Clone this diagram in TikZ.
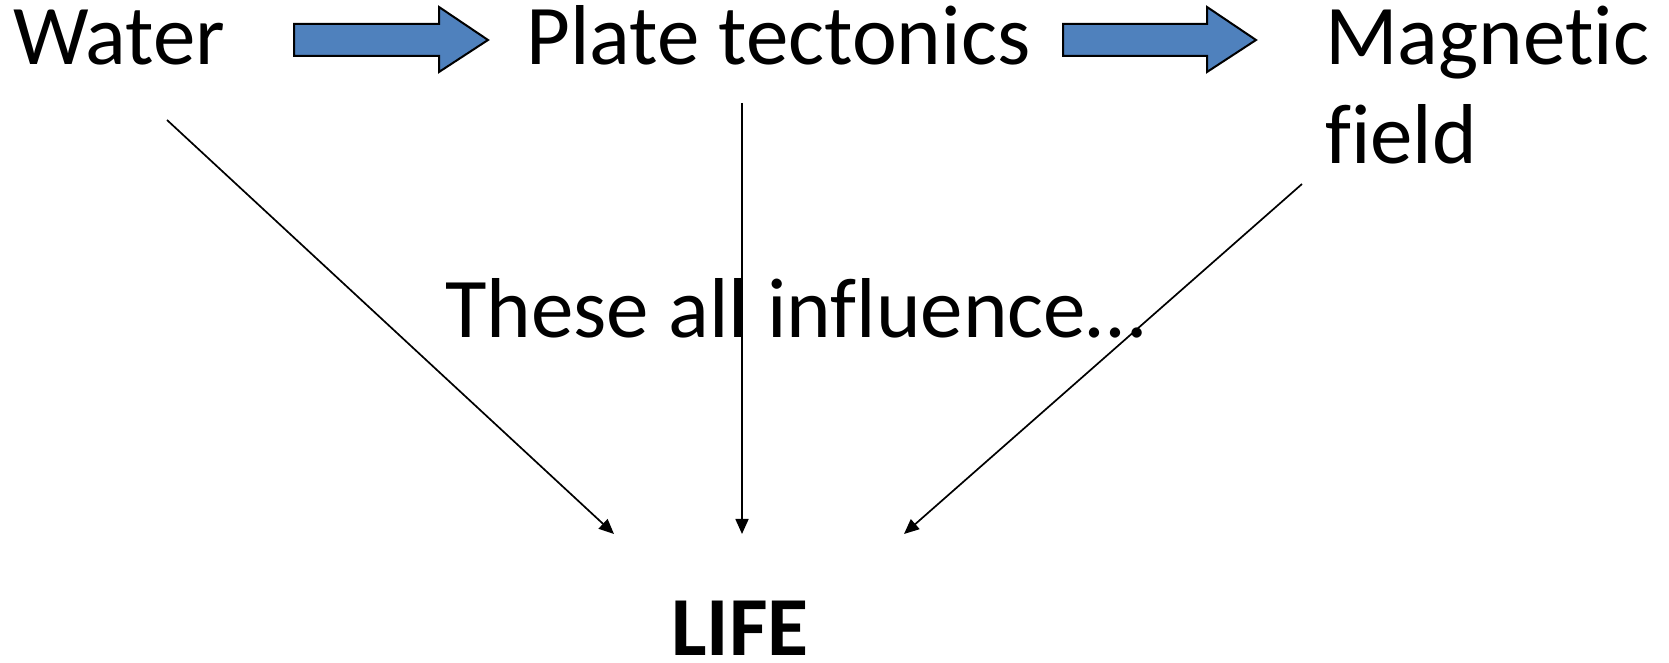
\documentclass[tikz,border=0pt]{standalone}
\usepackage{fontspec}
\setmainfont{Carlito}[Ligatures=NoCommon]
\usetikzlibrary{arrows.meta}
\definecolor{officeblue}{HTML}{4F81BD}
\begin{document}
\begin{tikzpicture}[x=1pt,y=1pt,
  lbl/.style={inner sep=0pt, anchor=base west, font=\fontsize{85}{99}\selectfont},
  conn/.style={line width=1.7pt, -{Triangle[length=15pt,width=13pt]}},
  blockarrow/.style={fill=officeblue, draw=black, line width=2pt, line join=miter}]
\useasboundingbox (0,0) rectangle (1669,663);
\node[lbl] (water) at (13,598) {Water};
\node[lbl] (plate) at (526,598) {Plate tectonics};
\node[lbl, align=left] (mag) at (1325,499) {Magnetic\\field};
\node[lbl] (these) at (445,325) {These all influence…};
\node[lbl, font=\fontsize{84}{99}\selectfont\bfseries] (life) at (671,7) {LIFE};
% block arrows
\draw[blockarrow] (294,639) -- (439,639) -- (439,656) -- (488,623) -- (439,591) -- (439,607) -- (294,607) -- cycle;
\draw[blockarrow] (1063,639) -- (1207,639) -- (1207,656) -- (1256,623) -- (1207,591) -- (1207,607) -- (1063,607) -- cycle;
% connector endpoints
\coordinate (ws) at (167,543);
\coordinate (we) at (614,129);
\coordinate (ps) at (742,560);
\coordinate (pe) at (742,129);
\coordinate (ms) at (1302,479);
\coordinate (me) at (904,129);
\draw[conn] (ws) -- (we);
\draw[conn] (ps) -- (pe);
\draw[conn] (ms) -- (me);
\end{tikzpicture}
\end{document}
